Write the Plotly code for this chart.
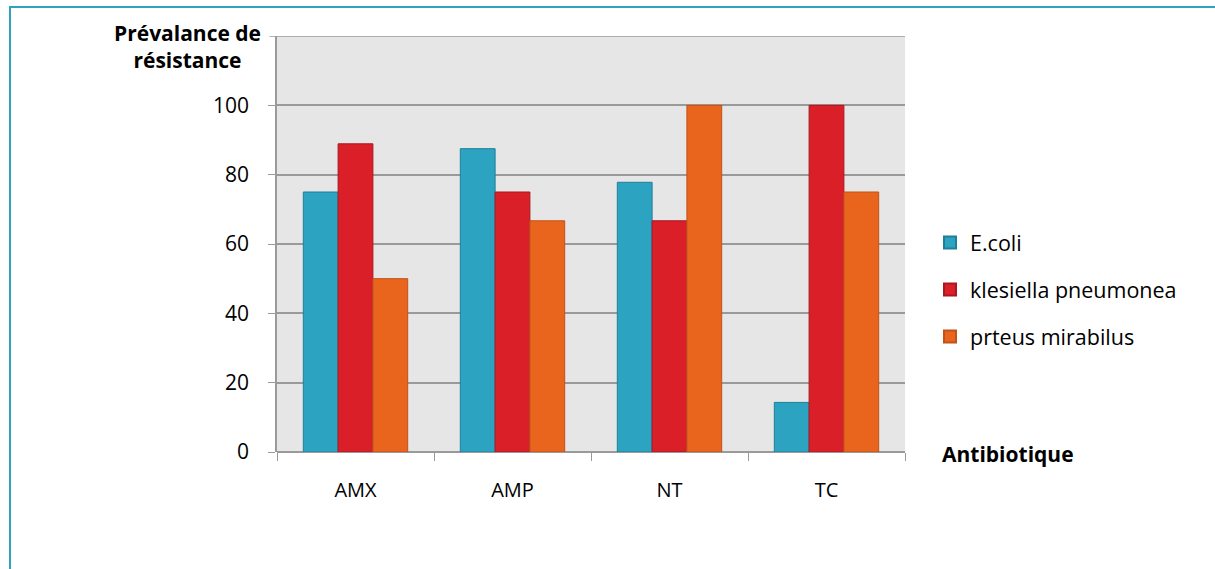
import plotly.graph_objects as go

categories = ["AMX", "AMP", "NT", "TC"]
series_names = ["E.coli", "klesiella pneumonea", "prteus mirabilus"]
ecoli = [75, 87.5, 77.8, 14.3]
klebsiella = [88.9, 75, 66.7, 100]
proteus = [50, 66.7, 100, 75]
y_ticks = [0, 20, 40, 60, 80, 100]

fills = ["#2ca3c1", "#da1f29", "#e9641d"]
edges = ["#1f7f99", "#a91820", "#c0521a"]

W, H = 1215, 569
L, R, T, B = 277, 905, 36, 452
pw, ph = R - L, B - T

def px(x):
    return (x - L) / pw

def py(y):
    return (B - y) / ph

FONT = "Open Sans, Liberation Sans, sans-serif"

fig = go.Figure()
for name, vals, f, e in zip(series_names, [ecoli, klebsiella, proteus], fills, edges):
    fig.add_trace(go.Bar(x=categories, y=vals, name=name, legendgroup=name,
                         marker=dict(color=f, line=dict(color=e, width=1))))

fig.update_layout(
    width=W, height=H,
    margin=dict(l=L, r=W - R, t=T, b=H - B, pad=0),
    paper_bgcolor="white",
    plot_bgcolor="#e6e6e6",
    barmode="group",
    bargap=0.335,
    bargroupgap=0,
    font=dict(family=FONT, size=20, color="#000"),
    showlegend=True,
    legend=dict(x=px(930), y=py(222), xanchor="left", yanchor="top",
                font=dict(size=21.5), itemwidth=30, tracegroupgap=16,
                bgcolor="rgba(0,0,0,0)", itemsizing="constant"),
    xaxis=dict(showgrid=False, showline=False, ticks="outside", ticklen=8,
               tickcolor="#9a9a9a", tickson="boundaries", ticklabelstandoff=24,
               tickfont=dict(size=20)),
    yaxis=dict(range=[0, 120], tickvals=y_ticks, showgrid=True, gridcolor="#9a9a9a",
               gridwidth=1.5, zeroline=True, zerolinecolor="#9a9a9a", zerolinewidth=1.5,
               showline=True, linecolor="#9a9a9a", linewidth=1.5, ticks="outside",
               ticklen=7, tickcolor="#9a9a9a", ticklabelstandoff=15,
               tickfont=dict(size=21)),
)

# top border of plot area at 120
fig.add_shape(type="line", xref="x domain", yref="y", x0=-0.012, x1=1, y0=120, y1=120,
              line=dict(color="#9a9a9a", width=1.5))
# outer frame
fig.add_shape(type="rect", xref="paper", yref="paper",
              x0=px(10), x1=px(1218), y0=py(7), y1=py(580),
              line=dict(color="#2ea3c1", width=2), layer="below")

fig.add_annotation(text="<b>Prévalance de<br>résistance</b>", xref="paper", yref="paper",
                   x=px(187), y=py(46), xanchor="center", yanchor="middle",
                   showarrow=False, font=dict(size=21), align="center")
fig.add_annotation(text="<b>Antibiotique</b>", xref="paper", yref="paper",
                   x=px(1008), y=py(454), xanchor="center", yanchor="middle",
                   showarrow=False, font=dict(size=21))

fig.write_html("out.html")
